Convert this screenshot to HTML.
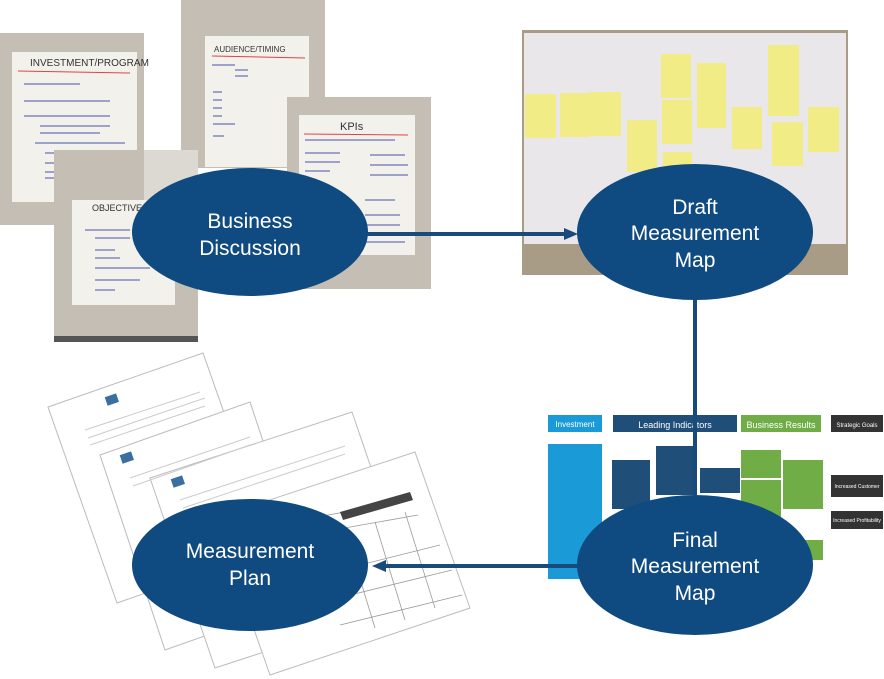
<!DOCTYPE html>
<html><head><meta charset="utf-8"><style>
html,body{margin:0;padding:0;background:#fff;width:884px;height:679px;overflow:hidden}
svg{display:block}
text{font-family:"Liberation Sans",sans-serif}
</style></head><body>
<svg width="884" height="679" viewBox="0 0 884 679" xmlns="http://www.w3.org/2000/svg">
<!-- top-left photos -->
<rect x="0" y="33" width="144" height="192" fill="#c4beb5"/>
<rect x="12" y="52" width="125" height="150" fill="#f3f1ec"/>
<line x1="18" y1="71" x2="130" y2="73" stroke="#d44" stroke-width="1"/>
<text x="30" y="66" font-size="10" fill="#333">INVESTMENT/PROGRAM</text>
<g stroke="#4a52a8" stroke-width="1">
<line x1="24" y1="84" x2="80" y2="84"/><line x1="24" y1="101" x2="110" y2="101"/><line x1="24" y1="116" x2="110" y2="116"/>
<line x1="40" y1="126" x2="110" y2="126"/><line x1="40" y1="133" x2="100" y2="133"/><line x1="35" y1="143" x2="125" y2="143"/>
<line x1="45" y1="153" x2="100" y2="153"/><line x1="45" y1="163" x2="100" y2="163"/><line x1="45" y1="172" x2="90" y2="172"/><line x1="45" y1="178" x2="90" y2="178"/></g>
<rect x="181" y="0" width="144" height="168" fill="#c4beb5"/>
<rect x="205" y="36" width="104" height="131" fill="#f3f1ec"/>
<line x1="212" y1="56" x2="305" y2="58" stroke="#d44"/>
<text x="214" y="52" font-size="8" fill="#333">AUDIENCE/TIMING</text>
<g stroke="#4a52a8" stroke-width="1"><line x1="212" y1="65" x2="235" y2="65"/><line x1="235" y1="70" x2="248" y2="70"/><line x1="235" y1="76" x2="248" y2="76"/>
<line x1="213" y1="92" x2="222" y2="92"/><line x1="213" y1="100" x2="222" y2="100"/><line x1="213" y1="108" x2="222" y2="108"/><line x1="213" y1="116" x2="222" y2="116"/><line x1="213" y1="124" x2="235" y2="124"/><line x1="213" y1="136" x2="224" y2="136"/></g>
<rect x="287" y="97" width="144" height="192" fill="#c4beb5"/>
<rect x="299" y="115" width="116" height="140" fill="#f3f1ec"/>
<text x="340" y="130" font-size="11" fill="#333">KPIs</text>
<line x1="304" y1="134" x2="408" y2="135" stroke="#d44"/>
<g stroke="#4a52a8"><line x1="305" y1="140" x2="395" y2="140"/><line x1="305" y1="153" x2="340" y2="153"/><line x1="305" y1="162" x2="340" y2="162"/><line x1="305" y1="171" x2="330" y2="171"/><line x1="370" y1="155" x2="405" y2="155"/><line x1="370" y1="165" x2="408" y2="165"/><line x1="370" y1="175" x2="408" y2="175"/><line x1="365" y1="200" x2="395" y2="200"/><line x1="365" y1="215" x2="400" y2="215"/><line x1="365" y1="225" x2="400" y2="225"/><line x1="365" y1="242" x2="405" y2="242"/></g>
<rect x="54" y="150" width="144" height="192" fill="#c4beb5"/>
<rect x="144" y="150" width="54" height="50" fill="#dcd9d3"/>
<rect x="72" y="200" width="103" height="105" fill="#f3f1ec"/>
<text x="92" y="211" font-size="9" fill="#333">OBJECTIVES/</text>
<g stroke="#4a52a8"><line x1="85" y1="230" x2="130" y2="230"/><line x1="95" y1="238" x2="130" y2="238"/><line x1="95" y1="250" x2="115" y2="250"/><line x1="95" y1="258" x2="120" y2="258"/><line x1="95" y1="268" x2="150" y2="268"/><line x1="95" y1="280" x2="140" y2="280"/><line x1="95" y1="290" x2="115" y2="290"/></g>
<rect x="54" y="336" width="144" height="6" fill="#555"/>

<!-- top-right photo -->
<rect x="522" y="30" width="326" height="245" fill="#a99c86"/>
<rect x="524" y="33" width="322" height="211" fill="#e9e7ea"/>
<g fill="#f2ec86">
<rect x="525" y="94" width="31" height="44"/><rect x="560" y="93" width="30" height="44"/><rect x="590" y="92" width="31" height="44"/>
<rect x="627" y="120" width="30" height="52"/>
<rect x="661" y="54" width="30" height="44"/><rect x="662" y="100" width="30" height="44"/><rect x="663" y="152" width="29" height="38"/>
<rect x="697" y="63" width="29" height="27"/><rect x="697" y="90" width="29" height="38"/>
<rect x="732" y="107" width="30" height="42"/>
<rect x="768" y="45" width="31" height="71"/><rect x="772" y="122" width="31" height="44"/><rect x="808" y="107" width="31" height="45"/>
</g>

<!-- bottom-left documents -->
<g stroke="#bbb" stroke-width="1" fill="#fff">
<polygon points="48,407 203,353 272,549 117,603"/>
<polygon points="100,455 250,402 315,597 165,650"/>
<polygon points="150,478 352,412 417,602 215,668"/>
<polygon points="215,518 415,452 470,608 270,675"/>
</g>
<g stroke="#ccc" stroke-width="1">
<line x1="85" y1="430" x2="200" y2="392"/><line x1="88" y1="438" x2="205" y2="398"/><line x1="90" y1="445" x2="205" y2="406"/>
<line x1="130" y1="478" x2="250" y2="437"/><line x1="133" y1="486" x2="250" y2="445"/>
<line x1="180" y1="500" x2="345" y2="446"/><line x1="183" y1="508" x2="345" y2="454"/>
</g>
<g stroke="#999" stroke-width="0.8" fill="none">
<line x1="300" y1="520" x2="412" y2="500"/><line x1="305" y1="535" x2="418" y2="515"/>
<line x1="320" y1="575" x2="440" y2="545"/><line x1="330" y1="600" x2="452" y2="570"/><line x1="340" y1="625" x2="462" y2="595"/>
<line x1="345" y1="530" x2="375" y2="628"/><line x1="375" y1="522" x2="405" y2="620"/><line x1="405" y1="512" x2="435" y2="608"/>
</g>
<polygon points="340,512 410,492 413,500 343,520" fill="#444"/>
<g fill="#3b6fa0">
<rect x="106" y="395" width="12" height="9" transform="rotate(-19 112 400)"/>
<rect x="121" y="453" width="12" height="9" transform="rotate(-19 127 458)"/>
<rect x="172" y="477" width="12" height="9" transform="rotate(-19 178 482)"/>
</g>

<!-- bottom-right map -->
<rect x="548" y="415" width="54" height="17" fill="#1a9ad6"/><text x="575" y="427" font-size="8" fill="#fff" text-anchor="middle">Investment</text>
<rect x="613" y="415" width="124" height="17" fill="#1f4e79"/><text x="675" y="428" font-size="9" fill="#fff" text-anchor="middle">Leading Indicators</text>
<rect x="741" y="415" width="80" height="17" fill="#70ad47"/><text x="781" y="428" font-size="9" fill="#fff" text-anchor="middle">Business Results</text>
<rect x="831" y="415" width="52" height="17" fill="#333"/><text x="857" y="427" font-size="6" fill="#fff" text-anchor="middle">Strategic Goals</text>
<rect x="548" y="444" width="54" height="135" fill="#1a9ad6"/>
<g fill="#1f4e79"><rect x="612" y="460" width="38" height="25"/><rect x="612" y="484" width="38" height="25"/><rect x="656" y="446" width="40" height="25"/><rect x="656" y="470" width="40" height="25"/><rect x="700" y="468" width="40" height="25"/></g>
<g fill="#70ad47"><rect x="741" y="450" width="40" height="28"/><rect x="741" y="480" width="40" height="25"/><rect x="741" y="505" width="40" height="30"/><rect x="783" y="460" width="40" height="25"/><rect x="783" y="484" width="40" height="25"/><rect x="783" y="540" width="40" height="20"/></g>
<g fill="#333"><rect x="831" y="475" width="52" height="22"/><rect x="831" y="511" width="52" height="18"/></g>
<text x="857" y="488" font-size="5" fill="#fff" text-anchor="middle">Increased Customer</text>
<text x="857" y="522" font-size="5" fill="#fff" text-anchor="middle">Increased Profitability</text>

<!-- connectors -->
<g stroke="#1a4a7a" stroke-width="4" fill="none">
<line x1="365" y1="234" x2="566" y2="234"/>
<line x1="695" y1="298" x2="695" y2="495"/>
<line x1="580" y1="566" x2="384" y2="566"/>
</g>
<polygon points="578,234 564,228 564,240" fill="#1a4a7a"/>
<polygon points="372,566 386,560 386,572" fill="#1a4a7a"/>

<!-- ellipses -->
<g fill="#0f4a80">
<ellipse cx="250" cy="232" rx="118" ry="64"/>
<ellipse cx="695" cy="232" rx="118" ry="68"/>
<ellipse cx="695" cy="565" rx="118" ry="70"/>
<ellipse cx="250" cy="565" rx="118" ry="66"/>
</g>
<g fill="#fff" font-size="21" text-anchor="middle">
<text x="250" y="228">Business</text><text x="250" y="255">Discussion</text>
<text x="695" y="214">Draft</text><text x="695" y="240">Measurement</text><text x="695" y="267">Map</text>
<text x="695" y="547">Final</text><text x="695" y="573">Measurement</text><text x="695" y="600">Map</text>
<text x="250" y="558">Measurement</text><text x="250" y="585">Plan</text>
</g>
</svg>
</body></html>
